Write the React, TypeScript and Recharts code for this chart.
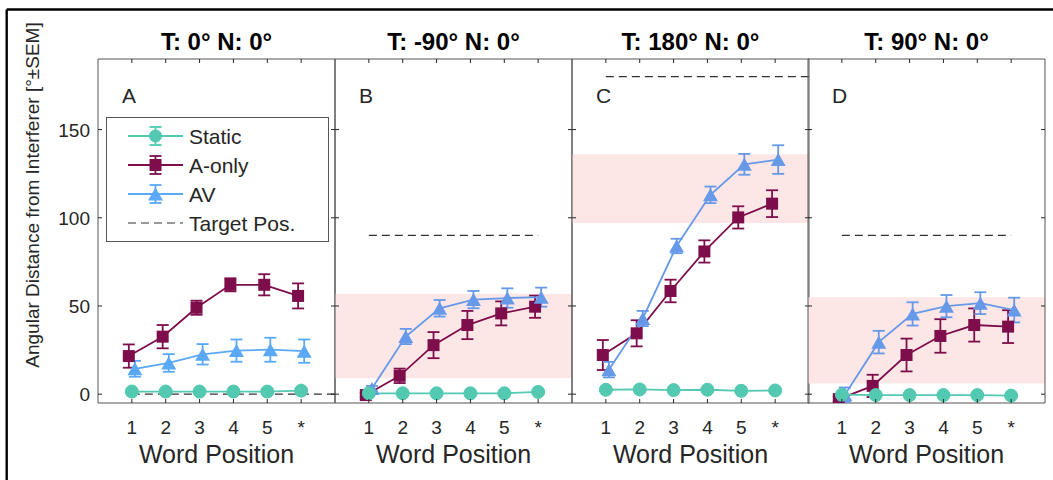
import React from "react";
import { ComposedChart, Line, XAxis, YAxis, ReferenceArea, ReferenceLine, ErrorBar } from "recharts";

// word positions on the x axis ("*" = final word)
const wordPositions = [1, 2, 3, 4, 5, 6];
const wordLabels = ["1", "2", "3", "4", "5", "*"];
const yTicks = [0, 50, 100, 150];

const panelTitles = ["T: 0° N: 0°", "T: -90° N: 0°", "T: 180° N: 0°", "T: 90° N: 0°"];
const panelLetters = ["A", "B", "C", "D"];

// target position (dashed) and where the dashed line stops
const targetPos = [0, 90, 180, 90];
const targetEnd = [7, 6, 7, 6];
// shaded band per panel (none in A)
const bandLow = [null, 9, 97, 6];
const bandHigh = [null, 57, 136, 55];

const staticMean = [
  [1.5, 1.5, 1.5, 1.5, 1.5, 2],
  [0.5, 0.5, 0.5, 0.5, 0.5, 1.3],
  [2.5, 2.7, 2.3, 2.5, 1.9, 2.1],
  [-0.3, -0.5, -0.5, -0.5, -0.5, -0.8],
];
const staticSem = [
  [0.8, 0.8, 0.8, 0.8, 0.8, 0.8],
  [0.6, 0.6, 0.6, 0.6, 0.6, 0.8],
  [0.8, 0.8, 0.8, 0.8, 0.8, 0.8],
  [0.6, 0.6, 0.6, 0.6, 0.6, 0.6],
];
const aOnlyMean = [
  [21.6, 32.6, 49, 62, 62, 55.7],
  [-0.5, 10.4, 27.8, 39.2, 45.8, 49.6],
  [22.2, 34.5, 58.5, 80.9, 100.2, 108],
  [-2.8, 4.7, 22.2, 33, 39.2, 38.3],
];
const aOnlySem = [
  [6.6, 6.6, 4, 3.7, 6, 7.1],
  [1, 4.1, 7.4, 8, 6.8, 6.3],
  [8.5, 7.4, 6.4, 6.3, 6.3, 7.6],
  [1.5, 6.3, 9.3, 9.5, 9.4, 9.3],
];
const avMean = [
  [14.4, 17.7, 22.6, 24.7, 25.2, 24.4],
  [3.2, 32.7, 48.7, 53.6, 54.5, 55],
  [13.9, 42.9, 84, 113, 130.3, 133],
  [-0.3, 29.5, 45.5, 49.9, 51.6, 47.7],
];
const avSem = [
  [4.5, 5, 5.8, 6.3, 6.8, 6.6],
  [1.5, 4.3, 4.7, 4.9, 5.5, 5.4],
  [4.4, 4.3, 4.1, 4.7, 5.9, 8.1],
  [4.1, 6.4, 6.6, 6.3, 6.2, 7],
];

const W = 1053;
const H = 480;
const PANEL_LEFT = [98, 335, 572, 808];
const PANEL_W = 237;
const PLOT_TOP = 59;
const PLOT_BOTTOM = 403;
const AXIS_H = 30;
const AXIS_W = 30;
const JITTER = 0.09;

const FONT = "'Liberation Sans', Arial, Helvetica, sans-serif";
const INK = "#262626";
const TEAL = "#52C9B0";
const MAROON = "#7D0E4B";
const BLUE = ["#5AA9F7", "#6699E8", "#6699E8", "#6699E8"];
const PINK = "#FDE6E6";

const circleDot = (color: string) => (p: any) => (
  <circle key={p.index} cx={p.cx} cy={p.cy} r={6.5} fill={color} stroke={color} />
);
const squareDot = (color: string) => (p: any) => (
  <rect key={p.index} x={p.cx - 6} y={p.cy - 6} width={12} height={12} fill={color} />
);
const triDot = (color: string) => (p: any) => (
  <polygon
    key={p.index}
    points={`${p.cx},${p.cy - 6.5} ${p.cx + 7.5},${p.cy + 6.5} ${p.cx - 7.5},${p.cy + 6.5}`}
    fill={color}
  />
);

function Panel({ i }: { i: number }) {
  const left = PANEL_LEFT[i];
  const rows = (means: number[][], sems: number[][], dx: number) =>
    wordPositions.map((p, k) => ({ pos: p + dx, value: means[i][k], sem: sems[i][k] }));

  const xTick = (props: any) => {
    const { x, payload } = props;
    return (
      <g>
        <line x1={x} x2={x} y1={PLOT_BOTTOM} y2={PLOT_BOTTOM - 4} stroke={INK} />
        <line x1={x} x2={x} y1={PLOT_TOP} y2={PLOT_TOP + 4} stroke={INK} />
        <text x={x} y={434} textAnchor="middle" fontSize={19} fill={INK} fontFamily={FONT}>
          {wordLabels[wordPositions.indexOf(payload.value)]}
        </text>
      </g>
    );
  };
  const yTick = (props: any) => {
    const { y, payload } = props;
    return (
      <g>
        <line x1={left} x2={left + 4} y1={y} y2={y} stroke={INK} />
        <line x1={left + PANEL_W} x2={left + PANEL_W - 4} y1={y} y2={y} stroke={INK} />
        {i === 0 && (
          <text x={90} y={y + 7} textAnchor="end" fontSize={19} fill={INK} fontFamily={FONT}>
            {payload.value}
          </text>
        )}
      </g>
    );
  };

  const blue = BLUE[i];
  return (
    <div style={{ position: "absolute", left: 0, top: 0 }}>
      <ComposedChart
        width={W}
        height={H}
        margin={{
          top: PLOT_TOP,
          bottom: H - PLOT_BOTTOM - AXIS_H,
          left: left - AXIS_W,
          right: W - left - PANEL_W,
        }}
      >
        <XAxis
          type="number"
          dataKey="pos"
          domain={[0, 7]}
          ticks={wordPositions}
          interval={0}
          height={AXIS_H}
          axisLine={false}
          tickLine={false}
          tick={xTick}
          allowDataOverflow
          label={{ value: "Word Position", position: "insideBottom", offset: -30, fontSize: 25, fill: INK, fontFamily: FONT }}
        />
        <YAxis
          type="number"
          domain={[-5, 190]}
          ticks={yTicks}
          interval={0}
          width={AXIS_W}
          axisLine={false}
          tickLine={false}
          tick={yTick}
          allowDataOverflow
        />
        {bandLow[i] != null && (
          <ReferenceArea x1={0} x2={7} y1={bandLow[i] as number} y2={bandHigh[i] as number} fill={PINK} fillOpacity={1} stroke="none" />
        )}
        <ReferenceLine
          segment={[{ x: 1, y: targetPos[i] }, { x: targetEnd[i], y: targetPos[i] }]}
          stroke="#333"
          strokeDasharray="8 5"
          strokeWidth={1.2}
        />
        <Line data={rows(aOnlyMean, aOnlySem, -JITTER)} dataKey="value" stroke={MAROON} strokeWidth={1.8}
          dot={squareDot(MAROON)} activeDot={false} isAnimationActive={false}>
          <ErrorBar dataKey="sem" width={6} stroke={MAROON} strokeWidth={1.8} direction="y" />
        </Line>
        <Line data={rows(avMean, avSem, JITTER)} dataKey="value" stroke={blue} strokeWidth={1.8}
          dot={triDot(blue)} activeDot={false} isAnimationActive={false}>
          <ErrorBar dataKey="sem" width={6} stroke={blue} strokeWidth={1.8} direction="y" />
        </Line>
        <Line data={rows(staticMean, staticSem, 0)} dataKey="value" stroke={TEAL} strokeWidth={1.8}
          dot={circleDot(TEAL)} activeDot={false} isAnimationActive={false}>
          <ErrorBar dataKey="sem" width={6} stroke={TEAL} strokeWidth={1.8} direction="y" />
        </Line>
        <ReferenceArea x1={0} x2={7} y1={-5} y2={190} fill="none" stroke="#555" strokeWidth={1} />
      </ComposedChart>
    </div>
  );
}

const legendItems = [
  { name: "Static", color: TEAL, shape: "circle" },
  { name: "A-only", color: MAROON, shape: "square" },
  { name: "AV", color: BLUE[0], shape: "tri" },
  { name: "Target Pos.", color: "#333", shape: "dash" },
];

function Overlay() {
  const text = { fontFamily: FONT, fill: INK };
  return (
    <svg width={W} height={H} style={{ position: "absolute", left: 0, top: 0, pointerEvents: "none" }}>
      <line x1={6.7} y1={9.5} x2={W} y2={9.5} stroke="#000" strokeWidth={2.4} />
      <line x1={6.7} y1={9.5} x2={6.7} y2={H} stroke="#000" strokeWidth={2.4} />
      {panelTitles.map((t, k) => (
        <text key={t} x={PANEL_LEFT[k] + PANEL_W / 2} y={50} textAnchor="middle" fontSize={24} fontWeight="bold" fill="#000" fontFamily={FONT}>
          {t}
        </text>
      ))}
      {panelLetters.map((l, k) => (
        <text key={l} x={PANEL_LEFT[k] + 24} y={103} fontSize={21} {...text}>
          {l}
        </text>
      ))}
      <text transform="translate(39,195) rotate(-90)" textAnchor="middle" fontSize={19} {...text}>
        Angular Distance from Interferer [°±SEM]
      </text>
      <rect x={106.5} y={117.5} width={222} height={124} fill="#fff" stroke="#555" />
      {legendItems.map((it, k) => {
        const cy = 136 + k * 29;
        const cx = 155.5;
        return (
          <g key={it.name}>
            {it.shape === "dash" ? (
              <line x1={128} x2={183} y1={cy} y2={cy} stroke={it.color} strokeWidth={1.2} strokeDasharray="8 5" />
            ) : (
              <g>
                <line x1={128} x2={183} y1={cy} y2={cy} stroke={it.color} strokeWidth={1.8} />
                <line x1={cx} x2={cx} y1={cy - 9} y2={cy + 9} stroke={it.color} strokeWidth={1.8} />
                <line x1={cx - 6} x2={cx + 6} y1={cy - 9} y2={cy - 9} stroke={it.color} strokeWidth={1.8} />
                <line x1={cx - 6} x2={cx + 6} y1={cy + 9} y2={cy + 9} stroke={it.color} strokeWidth={1.8} />
                {it.shape === "circle" && <circle cx={cx} cy={cy} r={6.5} fill={it.color} />}
                {it.shape === "square" && <rect x={cx - 6} y={cy - 6} width={12} height={12} fill={it.color} />}
                {it.shape === "tri" && (
                  <polygon points={`${cx},${cy - 6.5} ${cx + 7.5},${cy + 6.5} ${cx - 7.5},${cy + 6.5}`} fill={it.color} />
                )}
              </g>
            )}
            <text x={189} y={cy + 7.5} fontSize={21} {...text}>
              {it.name}
            </text>
          </g>
        );
      })}
    </svg>
  );
}

export default function App() {
  return (
    <div style={{ position: "absolute", left: 0, top: 0, width: W, height: H, background: "#fff", overflow: "hidden" }}>
      {[0, 1, 2, 3].map((k) => (
        <Panel key={k} i={k} />
      ))}
      <Overlay />
    </div>
  );
}
